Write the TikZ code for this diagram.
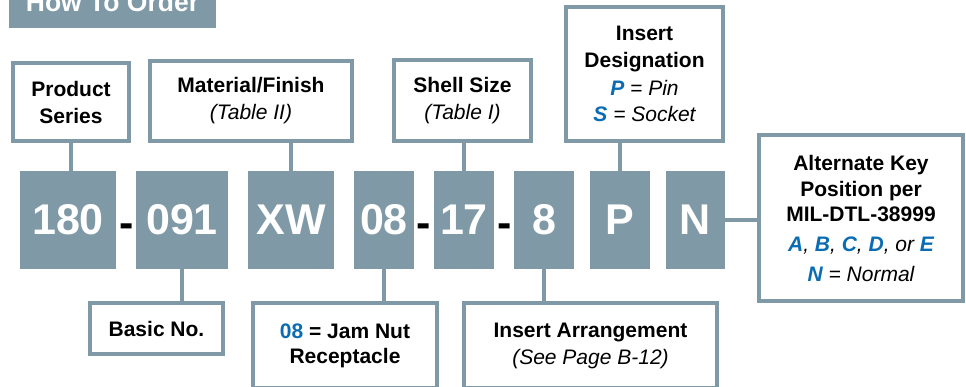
\documentclass[tikz,border=0pt]{standalone}
\usepackage{fontspec}
\setmainfont{Liberation Sans}
\definecolor{slate}{HTML}{7F99A6}
\definecolor{kblue}{HTML}{0A6DB3}
\newcommand\kb[1]{{\color{kblue}\bfseries\itshape #1}}
\newcommand\ital[1]{{\mdseries\itshape #1}}
\begin{document}
\begin{tikzpicture}[x=1pt,y=-1pt,
  lbl/.style={draw=slate, line width=4pt, fill=white, align=center, inner sep=0pt, outer sep=0pt, text=black,
    font=\fontsize{21}{27}\selectfont\bfseries},
  code/.style={fill=slate, text=white, inner sep=0pt, outer sep=0pt, minimum height=98pt,
    font=\fontsize{43}{43}\selectfont\bfseries},
  hyph/.style={anchor=base, inner sep=0pt, text=black, font=\fontsize{43}{43}\selectfont\bfseries},
  conn/.style={draw=slate, line width=4pt}
]
\useasboundingbox (0,0) rectangle (966,386);
\clip (0,0) rectangle (966,386);

% title bar
\node[fill=slate, inner sep=0pt, outer sep=0pt, minimum width=207pt, minimum height=48pt] (tbar) at (112.5,4) {};
\node[anchor=base, inner sep=0pt, text=white, font=\fontsize{26.5}{26.5}\selectfont\bfseries] (ttl) at (112.5,11) {How To Order};

% code boxes
\node[code, minimum width=96pt] (c180) at (68,220) {180};
\node[code, minimum width=92pt] (c091) at (182,220) {091};
\node[code, minimum width=86pt] (cXW) at (291,220) {XW};
\node[code, minimum width=60pt] (c08) at (384,220) {08};
\node[code, minimum width=60pt] (c17) at (464,220) {17};
\node[code, minimum width=60pt] (c8) at (544,220) {8};
\node[code, minimum width=60pt] (cP) at (620,220) {P};
\node[code, minimum width=59pt] (cN) at (695.5,220) {N};

% hyphens
\node[hyph] (h1) at (127,237) {-};
\node[hyph] (h2) at (424,237) {-};
\node[hyph] (h3) at (505,237) {-};

% connectors
\draw[conn] (c180.north -| 71,0) coordinate (psc) -- (psc |- 0,141);
\draw[conn] (cXW.north) -- (cXW.north |- 0,141);
\draw[conn] (c17.north) -- (c17.north |- 0,141);
\draw[conn] (cP.north) -- (cP.north |- 0,141);
\draw[conn] (cN.east) -- (759,220);
\draw[conn] (c091.south) -- (c091.south |- 0,303);
\draw[conn] (c08.south) -- (c08.south |- 0,303);
\draw[conn] (c8.south) -- (c8.south |- 0,303);

% label boxes
\node[lbl, minimum width=116pt, minimum height=78pt] (ps) at (71,102) {Product\\Series};
\node[lbl, minimum width=202pt, minimum height=80pt] (mf) at (251,101) {Material/Finish\\\ital{(Table II)}};
\node[lbl, minimum width=137pt, minimum height=81pt] (ss) at (462.5,100.5) {Shell Size\\\ital{(Table I)}};
\node[lbl, minimum width=157pt, minimum height=134pt] (id) at (644.5,74) {Insert\\Designation\\[1pt]\kb{P}\ital{ = Pin}\\[-1pt]\kb{S}\ital{ = Socket}};
\node[lbl, minimum width=204pt, minimum height=166pt] (ak) at (861,218) {Alternate Key\\[-1pt]Position per\\[-2pt]MIL-DTL-38999\\[3pt]\kb{A}\ital{, }\kb{B}\ital{, }\kb{C}\ital{, }\kb{D}\ital{, or }\kb{E}\\[3pt]\kb{N}\ital{ = Normal}};
\node[lbl, minimum width=133pt, minimum height=51pt] (bn) at (156.5,328.5) {Basic No.};
\node[lbl, minimum width=184pt, minimum height=85pt] (jn) at (345,345.5) {{\color{kblue}08} = Jam Nut\\[-2pt]Receptacle};
\node[lbl, minimum width=253pt, minimum height=85pt] (ia) at (590.5,345.5) {Insert Arrangement\\\ital{(See Page B-12)}};
\end{tikzpicture}
\end{document}
